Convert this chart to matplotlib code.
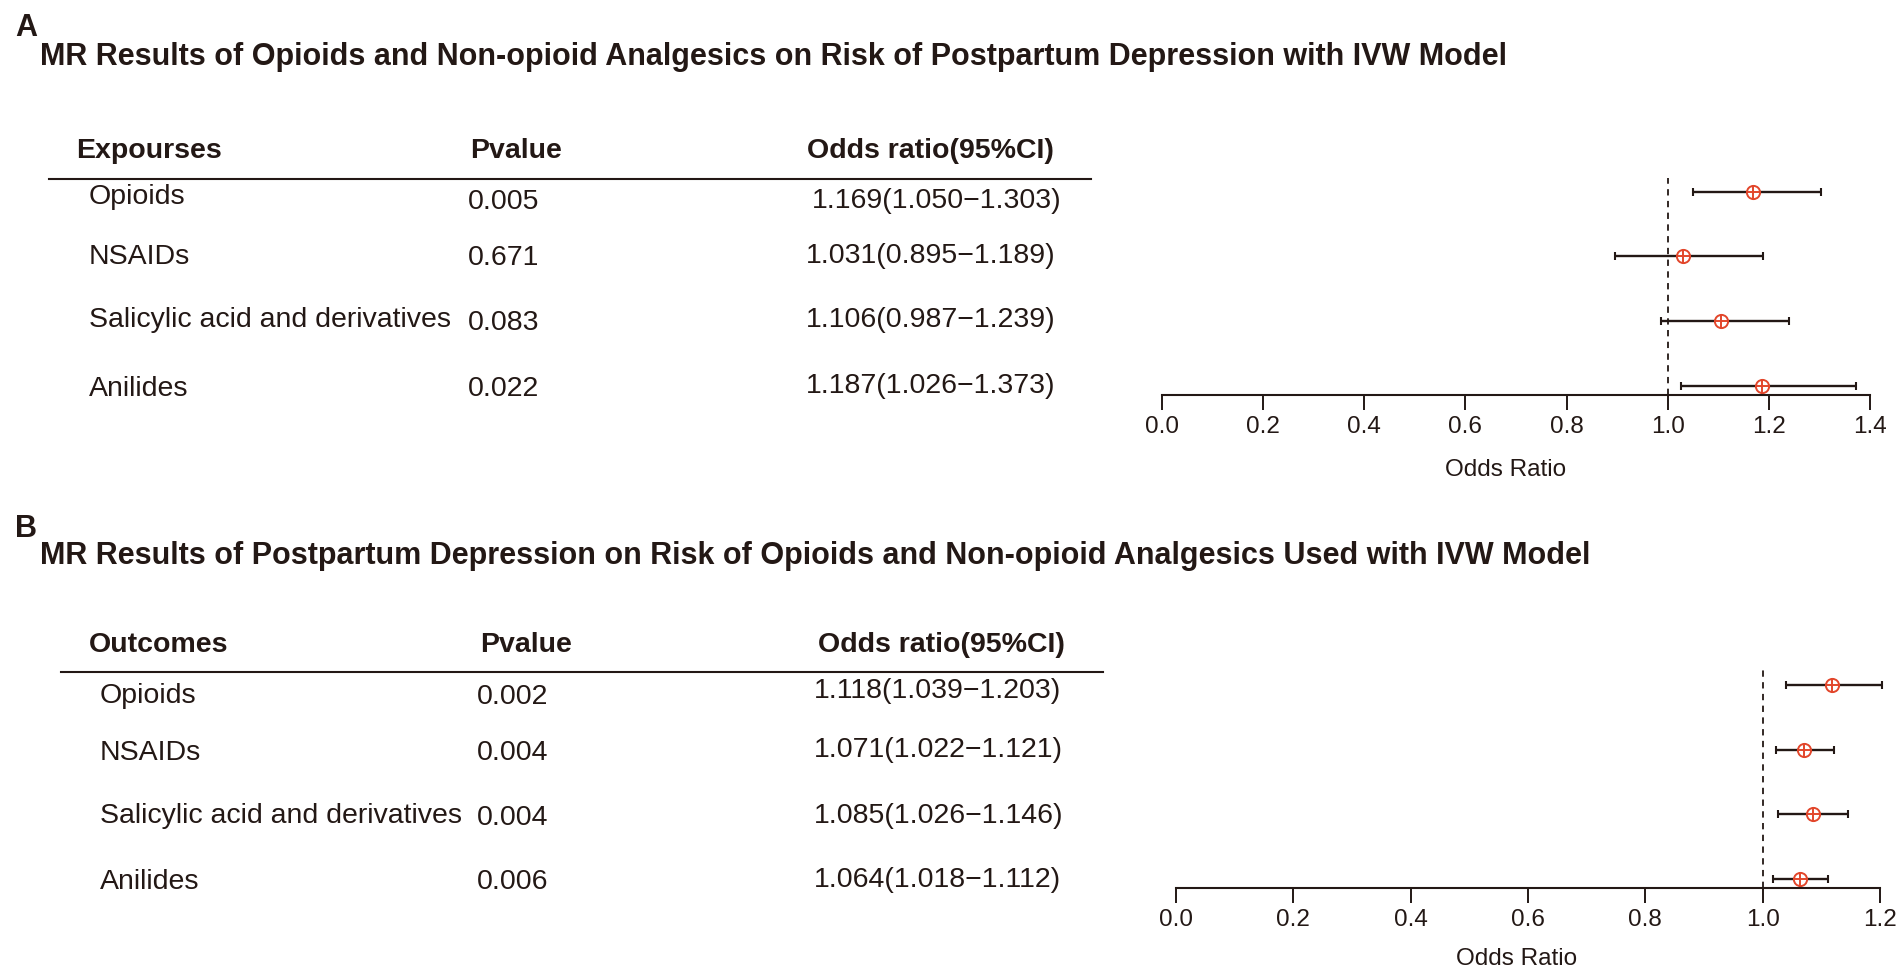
import numpy as np
import matplotlib
matplotlib.use("Agg")
import matplotlib.pyplot as plt
from matplotlib.lines import Line2D

plt.rcParams["font.family"] = ["Liberation Sans", "DejaVu Sans"]

W, H = 1904, 975
INK = "#231815"
RED = "#E2462B"

# --- data -------------------------------------------------------------
title_a = "MR Results of Opioids and Non-opioid Analgesics on Risk of Postpartum Depression with IVW Model"
title_b = "MR Results of Postpartum Depression on Risk of Opioids and Non-opioid Analgesics Used with IVW Model"
headers_a = ["Expourses", "Pvalue", "Odds ratio(95%CI)"]
headers_b = ["Outcomes", "Pvalue", "Odds ratio(95%CI)"]

drugs = ["Opioids", "NSAIDs", "Salicylic acid and derivatives", "Anilides"]

pval_a = ["0.005", "0.671", "0.083", "0.022"]
or_a = [1.169, 1.031, 1.106, 1.187]
lo_a = [1.050, 0.895, 0.987, 1.026]
hi_a = [1.303, 1.189, 1.239, 1.373]

pval_b = ["0.002", "0.004", "0.004", "0.006"]
or_b = [1.118, 1.071, 1.085, 1.064]
lo_b = [1.039, 1.022, 1.026, 1.018]
hi_b = [1.203, 1.121, 1.146, 1.112]

ticks_a = [0.0, 0.2, 0.4, 0.6, 0.8, 1.0, 1.2, 1.4]
ticks_b = [0.0, 0.2, 0.4, 0.6, 0.8, 1.0, 1.2]


def fx(x):
    return x / W


def fy(y):
    return 1 - y / H


def txt(fig, x, y, s, size, bold=False, ha="left"):
    fig.text(fx(x), fy(y), s, fontsize=size, color=INK, ha=ha, va="center",
             fontweight="bold" if bold else "normal")


def panel(fig, lay, letter, title, headers, pvals, ors, los, his, ticks):
    txt(fig, lay["letter"][0], lay["letter"][1], letter, 22, bold=True)
    txt(fig, lay["title"][0], lay["title"][1], title, 22, bold=True)

    hy = lay["head_y"]
    for x, h in zip(lay["head_x"], headers):
        txt(fig, x, hy, h, 20.5, bold=True)
    lx0, lx1, ly = lay["rule"]
    fig.add_artist(Line2D([fx(lx0), fx(lx1)], [fy(ly), fy(ly)], color=INK, lw=1.5))

    for i, name in enumerate(drugs):
        txt(fig, lay["col_x"][0], lay["name_y"][i], name, 20.5)
        txt(fig, lay["col_x"][1], lay["p_y"][i], pvals[i], 20.5)
        s = f"{ors[i]:.3f}({los[i]:.3f}\u2212{his[i]:.3f})"
        txt(fig, lay["or_x"][i], lay["or_y"][i], s, 20.5)

    # forest plot
    x0, x1, ytop, ybot = lay["ax"]
    ax = fig.add_axes([fx(x0), fy(ybot), (x1 - x0) / W, (ybot - ytop) / H])
    n = len(drugs)
    ypos = np.arange(n, 0, -1)
    ors = np.array(ors)
    los = np.array(los)
    his = np.array(his)
    ax.axvline(1.0, color=INK, lw=1.3, ls=(0, (3.5, 3)))
    ax.errorbar(ors, ypos, xerr=[ors - los, his - ors], fmt="none",
                ecolor=INK, elinewidth=1.7, capsize=3, capthick=1.5, clip_on=False)
    ax.plot(ors, ypos, "o", mfc="white", mec=RED, ms=9.5, mew=1.4, clip_on=False)
    ax.plot(ors, ypos, "+", color=RED, ms=9.5, mew=1.4, clip_on=False)
    ax.set_xlim(ticks[0], ticks[-1])
    ax.set_ylim(lay["ylim"])
    ax.set_xticks(ticks)
    ax.set_xticklabels([f"{t:.1f}" for t in ticks], fontsize=17.5, color=INK)
    ax.tick_params(axis="x", direction="out", length=11, width=1.4, pad=4, colors=INK)
    ax.set_yticks([])
    for side in ("left", "top", "right"):
        ax.spines[side].set_visible(False)
    ax.spines["bottom"].set_linewidth(1.5)
    ax.spines["bottom"].set_color(INK)
    ax.patch.set_alpha(0)
    txt(fig, lay["xlab"][0], lay["xlab"][1], "Odds Ratio", 17.5, ha="center")


lay_a = dict(
    letter=(15, 28), title=(40, 57),
    head_y=151, head_x=[76, 470, 807],
    rule=(49, 1091, 179),
    col_x=[89, 468],
    name_y=[197, 257, 320, 389],
    p_y=[202, 258, 323, 389],
    or_x=[812, 806, 806, 806],
    or_y=[201, 256, 320, 386],
    ax=(1162, 1870, 178, 395),
    ylim=(0.86, 4.21),
    xlab=(1506, 470),
)

lay_b = dict(
    letter=(15, 529), title=(40, 556),
    head_y=645, head_x=[89, 480, 818],
    rule=(61, 1103, 672),
    col_x=[100, 477],
    name_y=[696, 753, 816, 882],
    p_y=[697, 753, 818, 882],
    or_x=[814, 814, 814, 814],
    or_y=[691, 750, 816, 880],
    ax=(1176, 1880, 670, 888),
    ylim=(0.86, 4.24),
    xlab=(1517, 959),
)

fig = plt.figure(figsize=(W / 100, H / 100), dpi=100)
fig.patch.set_facecolor("white")
panel(fig, lay_a, "A", title_a, headers_a, pval_a, or_a, lo_a, hi_a, ticks_a)
panel(fig, lay_b, "B", title_b, headers_b, pval_b, or_b, lo_b, hi_b, ticks_b)
fig.savefig("out.png", dpi=100)
